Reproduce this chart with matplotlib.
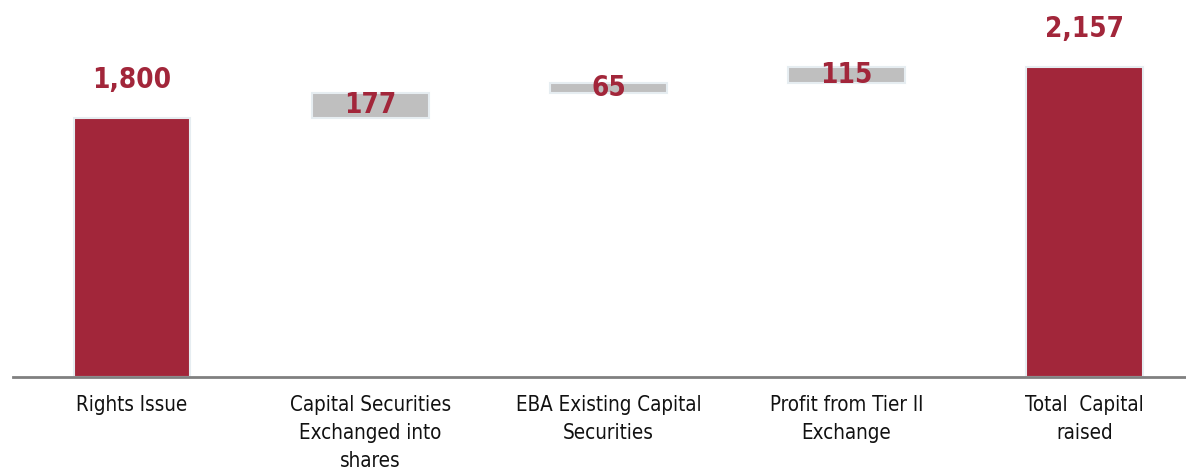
import matplotlib
matplotlib.use("Agg")
import matplotlib.pyplot as plt

categories = ["Rights Issue", "Capital Securities\nExchanged into\nshares",
              "EBA Existing Capital\nSecurities", "Profit from Tier II\nExchange",
              "Total  Capital\nraised"]
values = [1800, 177, 65, 115, 2157]
is_total = [True, False, False, False, True]
value_labels = ["1,800", "177", "65", "115", "2,157"]

RED = "#A2263A"
GRAY = "#BFBFBF"
EDGE = "#E6EDF1"

plt.rcParams['font.family'] = ['DejaVu Sans']

fig = plt.figure(figsize=(11.86, 4.71), dpi=100)
ax = fig.add_axes([13/1186, (471-377)/471, 1 - 13/1186, 377/471])

bottoms = []
running = 0
for v, t in zip(values, is_total):
    if t:
        bottoms.append(0)
        running = v
    else:
        bottoms.append(running)
        running += v

x = list(range(len(categories)))
colors = [RED if t else GRAY for t in is_total]
ax.bar(x, values, bottom=bottoms, width=0.49, color=colors, edgecolor=EDGE, linewidth=1.5)

for xi, v, b, t, lab in zip(x, values, bottoms, is_total, value_labels):
    if t:
        ax.annotate(lab, (xi, b + v), xytext=(0, 27), textcoords="offset points",
                    ha="center", va="center", color=RED, fontsize=20, fontweight="bold",
                    fontstretch="condensed")
    else:
        ax.text(xi, b + v / 2, lab, ha="center", va="center", color=RED,
                fontsize=20, fontweight="bold", fontstretch="condensed")

ax.set_xlim(-0.5, 4.425)
ax.set_ylim(0, 2620)
ax.set_xticks(x)
ax.set_xticklabels(categories, fontsize=14.8, color="#111111", linespacing=1.5,
                   fontstretch="condensed")
ax.tick_params(axis="x", length=0, pad=13)
ax.set_yticks([])
for s in ["top", "right", "left"]:
    ax.spines[s].set_visible(False)
ax.spines["bottom"].set_color("#808080")
ax.spines["bottom"].set_linewidth(2)

fig.savefig("out.png", dpi=100)
